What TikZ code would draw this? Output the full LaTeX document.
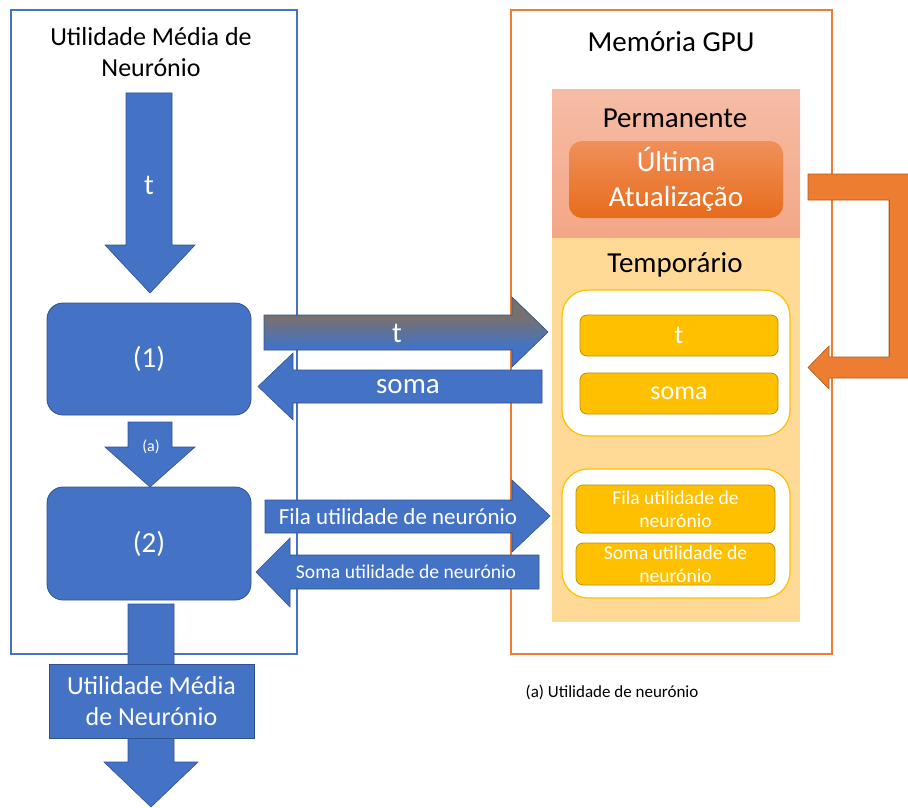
\documentclass[tikz,border=0pt]{standalone}
\usepackage{fontspec}
\setmainfont{Carlito}
\definecolor{blueA}{HTML}{4472C4}
\definecolor{blueD}{HTML}{2F528F}
\definecolor{grayA}{HTML}{767171}
\definecolor{orangeA}{HTML}{ED7D31}
\definecolor{orangeD}{HTML}{AE5A21}
\definecolor{goldA}{HTML}{FFC000}
\definecolor{goldD}{HTML}{BF9000}
\definecolor{tempFill}{HTML}{FFD996}
\definecolor{permTop}{HTML}{F5BCA5}
\definecolor{permBot}{HTML}{F4A786}
\definecolor{ultTop}{HTML}{F0905A}
\definecolor{ultBot}{HTML}{E76C1C}
\begin{document}
\begin{tikzpicture}[x=1pt,y=-1pt,
  blockarrow/.style={fill=blueA, draw=blueD, line width=0.6pt},
  bluebox/.style={fill=blueA, draw=blueD, line width=0.8pt, rounded corners=16pt, text=white, font=\fontsize{29}{35}\selectfont},
  wlabel/.style={text=white, inner sep=0pt, align=center},
  blabel/.style={text=black, inner sep=0pt, align=center},
  goldbox/.style={fill=goldA, draw=goldD, line width=0.8pt, rounded corners=7pt, text=white, align=center, inner sep=0pt},
  whitebox/.style={fill=white, draw=goldA, line width=1.2pt, rounded corners=26pt},
  f29/.style={font=\fontsize{29}{35}\selectfont},
  f26/.style={font=\fontsize{26}{31}\selectfont},
  f23/.style={font=\fontsize{23}{28}\selectfont},
  f20/.style={font=\fontsize{19.6}{23}\selectfont},
  f17/.style={font=\fontsize{17}{20}\selectfont},
  f16/.style={font=\fontsize{16}{19}\selectfont}]
\useasboundingbox (0,0) rectangle (908,808);

% outer frames
\draw[draw=blueA, line width=1.2pt] (11,10) rectangle (297,654);
\draw[draw=orangeA, line width=1.2pt] (511,10) rectangle (832,654);

% column titles
\node[blabel, f26] (titleL) at (151,52) {Utilidade Média de\\Neurónio};
\node[blabel, f29] (titleR) at (671,42) {Memória GPU};

% downward block arrows of the left column
\draw[blockarrow] (126,93) -- (172,93) -- (172,245) -- (195,245) -- (150,293) -- (105,245) -- (126,245) -- cycle;
\node[wlabel, f29] (tdown) at (149,185) {t};
\node[bluebox, minimum width=204pt, minimum height=112pt] (b1) at (149,359) {(1)};
\draw[blockarrow] (128,422) -- (172,422) -- (172,447) -- (195,447) -- (150,487) -- (105,447) -- (128,447) -- cycle;
\node[wlabel, f16] (adown) at (151,447) {(a)};
\node[bluebox, minimum width=204pt, minimum height=113pt] (b2) at (149,543.5) {(2)};

% output arrow with its label box
\draw[blockarrow] (128,604) -- (174,604) -- (174,762) -- (198,762) -- (151,807) -- (104,762) -- (128,762) -- cycle;
\node[fill=blueA, draw=blueD, line width=0.6pt, text=white, align=center, f26, minimum width=205pt, minimum height=74pt, inner sep=0pt] (outbox) at (151.5,701) {Utilidade Média\\de Neurónio};

% GPU memory regions
\shade[top color=permTop, bottom color=permBot] (552,90) rectangle (800,237);
\fill[tempFill] (552,237) rectangle (800,622);
\draw[goldA, line width=1pt] (552,237) -- (800,237);
\node[blabel, f29] (perm) at (675,118) {Permanente};
\node[top color=ultTop, bottom color=ultBot, rounded corners=13pt, minimum width=214pt, minimum height=77pt, text=white, align=center, inner sep=0pt, font=\fontsize{29}{35}\selectfont] (ultima) at (676,179.5) {Última\\Atualização};
\node[blabel, f29] (temp) at (675,265) {Temporário};

\node[whitebox, minimum width=228pt, minimum height=146pt] (w1) at (676,363) {};
\node[goldbox, f26, minimum width=198pt, minimum height=41pt] (gt) at (679,335.5) {t};
\node[goldbox, f26, minimum width=198pt, minimum height=41pt] (gsoma) at (679,393.5) {soma};
\node[whitebox, minimum width=228pt, minimum height=129pt] (w2) at (676,533.5) {};
\node[goldbox, f20, minimum width=199pt, minimum height=48pt] (gfila) at (675.5,509) {Fila utilidade de\\neurónio};
\node[goldbox, f20, minimum width=199pt, minimum height=42pt] (gsum) at (675.5,564) {Soma utilidade de\\neurónio};

% transfers between the kernels and the GPU memory
% the "t" transfer: grey above, fading into blue below
\def\tarrow{(264,315) -- (512,315) -- (512,297) -- (548,332) -- (512,367) -- (512,350) -- (264,350) -- cycle}
\begin{scope}
  \clip \tarrow;
  \fill[blueA] (260,290) rectangle (552,370);
  \fill[grayA] (260,290) rectangle (552,322);
  \shade[top color=grayA, bottom color=blueA] (260,318) rectangle (552,346);
\end{scope}
\draw[draw=blueD, line width=0.6pt] \tarrow;
\node[wlabel, f29] (tright) at (397,333) {t};
\draw[blockarrow] (542,370) -- (542,403) -- (293,403) -- (293,420) -- (258,386.5) -- (293,353) -- (293,370) -- cycle;
\node[wlabel, f29] (somaleft) at (408,387) {soma};
\draw[blockarrow] (265,500) -- (512,500) -- (512,480) -- (550,516) -- (512,552) -- (512,533) -- (265,533) -- cycle;
\node[wlabel, f23] (filaright) at (398,517) {Fila utilidade de neurónio};
\draw[blockarrow] (539,555) -- (539,589) -- (290,589) -- (290,607) -- (256,572) -- (290,538) -- (290,555) -- cycle;
\node[wlabel, f20] (sumleft) at (406,572) {Soma utilidade de neurónio};

% feedback from the permanent store to the temporary one
\draw[fill=orangeA, draw=orangeD, line width=0.6pt] (808,174) -- (914,174) -- (914,378) -- (829,378) -- (829,389) -- (808,367.5) -- (829,346) -- (829,357) -- (889,357) -- (889,200) -- (808,200) -- cycle;
\draw[orangeD, line width=0.6pt] (889,200) -- (889,357);

% footnote
\node[blabel, f17] (note) at (612,692) {(a) Utilidade de neurónio};
\end{tikzpicture}
\end{document}
